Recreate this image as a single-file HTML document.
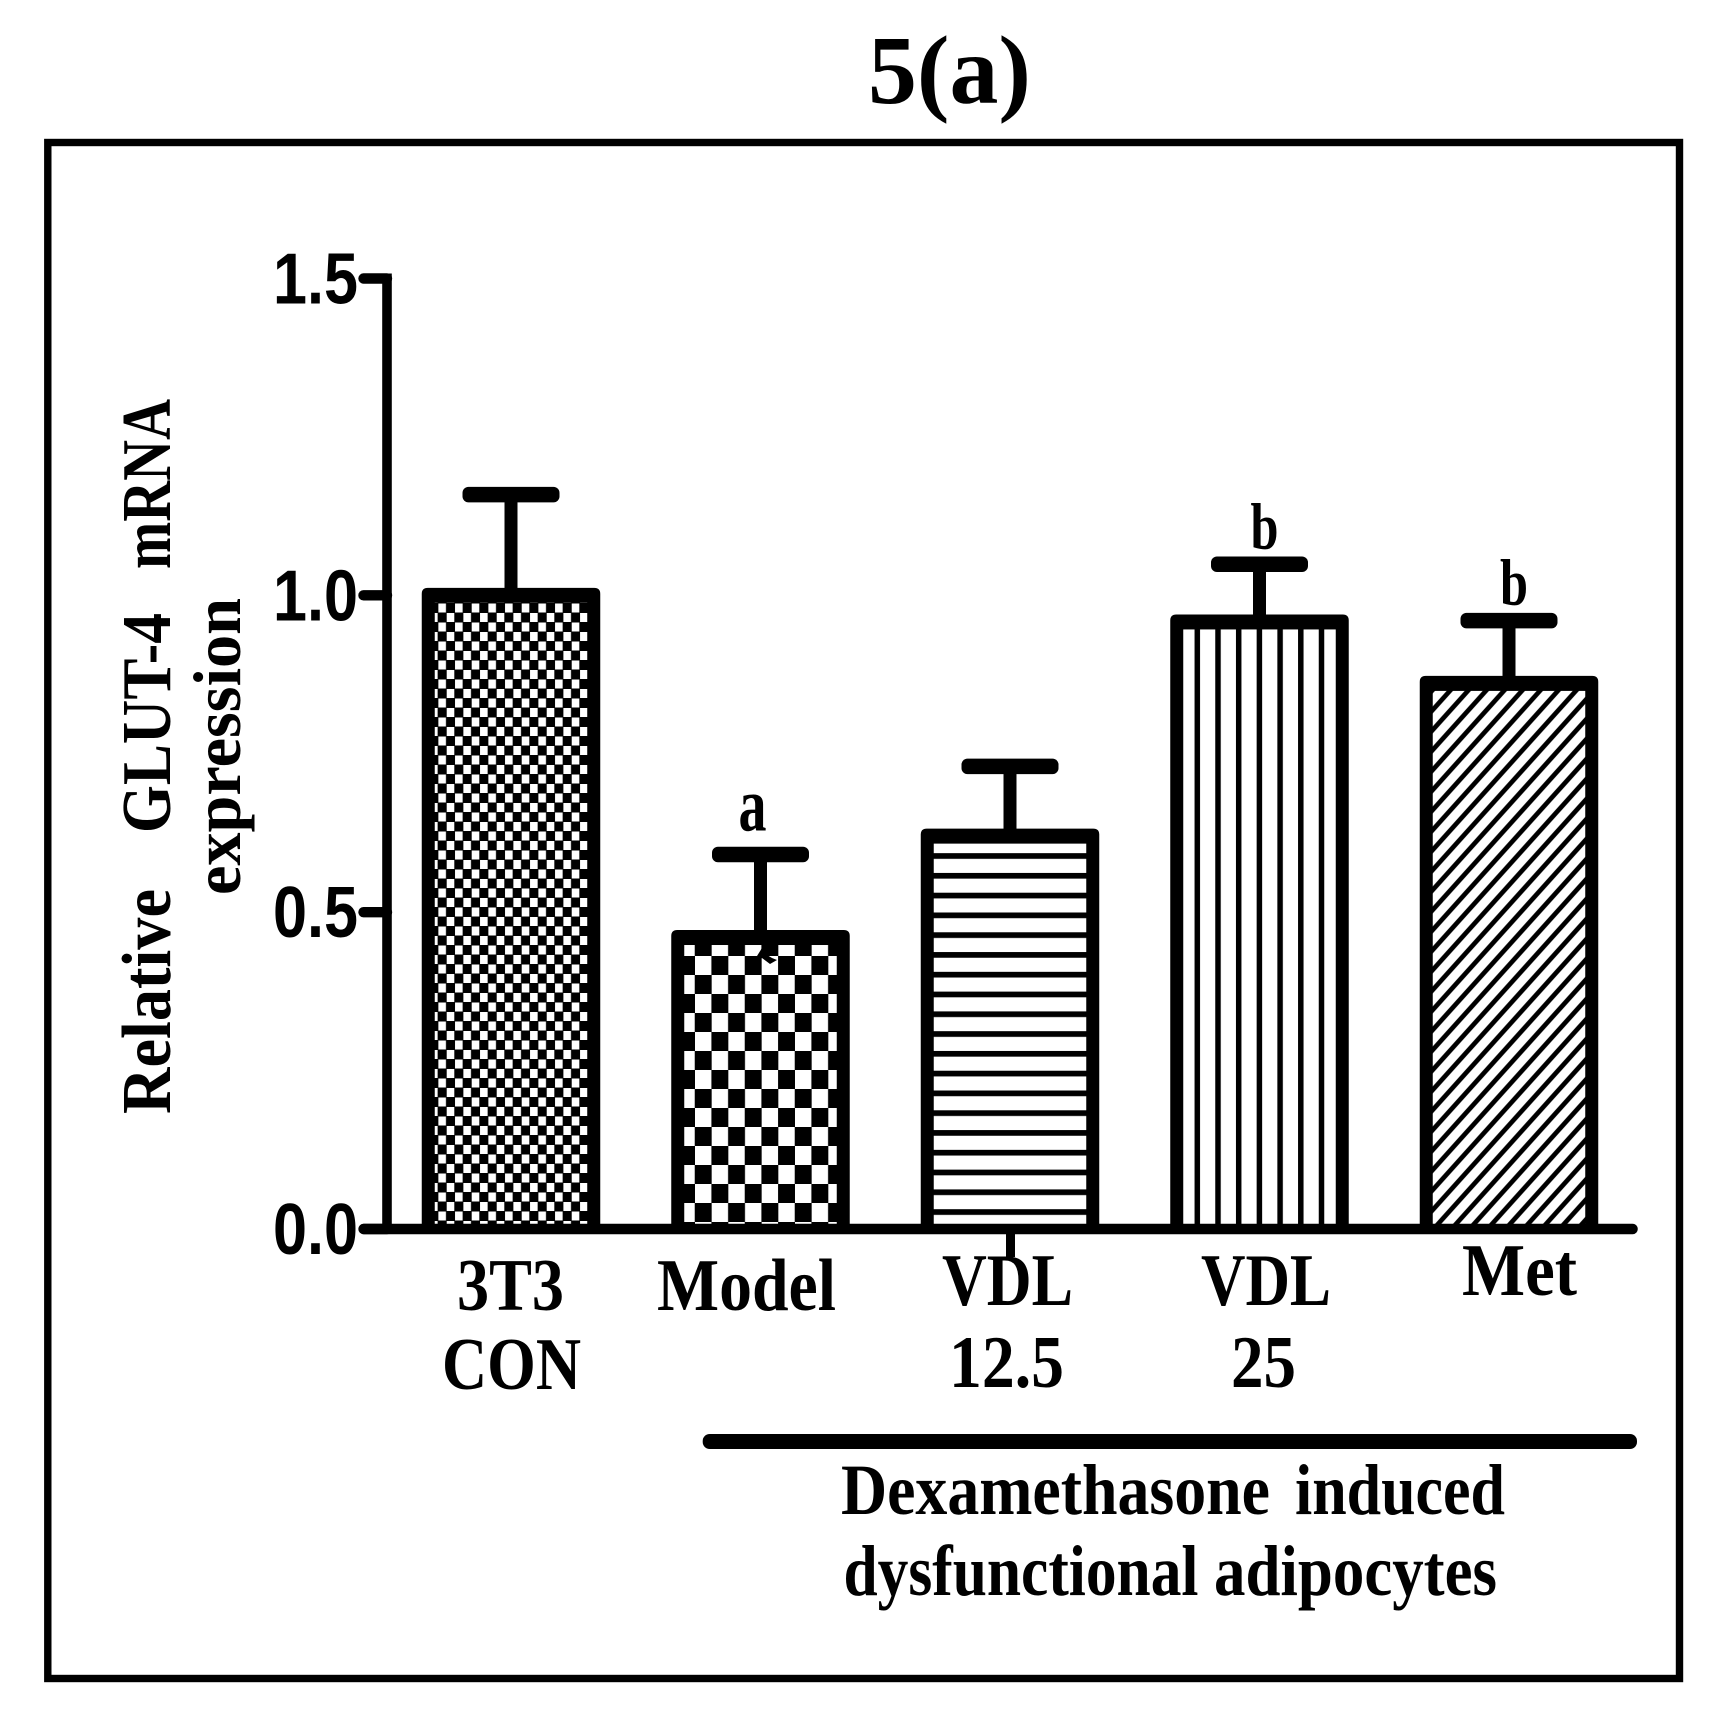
<!DOCTYPE html>
<html lang="en">
<head>
<meta charset="utf-8">
<title>5(a) Relative GLUT-4 mRNA expression</title>
<style>
  html, body { margin: 0; padding: 0; background: #fff; }
  svg { display: block; }
  .serif { font-family: "Liberation Serif", serif; font-weight: 700; fill: #000; }
  .sans { font-family: "Liberation Sans", sans-serif; font-weight: 700; fill: #000; }
</style>
</head>
<body>
<svg id="chart" xmlns="http://www.w3.org/2000/svg" width="1723" height="1729" viewBox="0 0 1723 1729">
  <defs>
    <pattern id="fill-fine-check" patternUnits="userSpaceOnUse" x="446.7" y="1107" width="16.67" height="19">
      <rect width="16.67" height="19" fill="#000"/>
      <rect x="0" y="0" width="7.6" height="9" fill="#fff"/>
      <rect x="8.33" y="9.5" width="7.6" height="9" fill="#fff"/>
    </pattern>
    <pattern id="fill-coarse-check" patternUnits="userSpaceOnUse" x="695" y="956" width="33.33" height="38">
      <rect width="33.33" height="38" fill="#000"/>
      <rect x="0" y="0" width="16.4" height="19" fill="#fff"/>
      <rect x="16.67" y="19" width="16.4" height="19" fill="#fff"/>
    </pattern>
    <pattern id="fill-horizontal" patternUnits="userSpaceOnUse" x="0" y="853.15" width="20" height="19.78">
      <rect width="20" height="19.78" fill="#fff"/>
      <rect x="0" y="0" width="20" height="5.7" fill="#000"/>
    </pattern>
    <pattern id="fill-vertical" patternUnits="userSpaceOnUse" x="1194.55" y="0" width="20.7" height="20">
      <rect width="20.7" height="20" fill="#fff"/>
      <rect x="0" y="0" width="5.5" height="20" fill="#000"/>
    </pattern>
    <pattern id="fill-diagonal" patternUnits="userSpaceOnUse" x="1432" y="690.7" width="18" height="20">
      <rect width="18" height="20" fill="#fff"/>
      <g stroke="#000" stroke-width="4.7">
        <line x1="22.5" y1="-5" x2="-4.5" y2="25"/>
        <line x1="4.5" y1="-5" x2="-22.5" y2="25"/>
        <line x1="40.5" y1="-5" x2="13.5" y2="25"/>
      </g>
    </pattern>
  </defs>

  <rect width="1723" height="1729" fill="#fff"/>
  <rect x="47.8" y="142.5" width="1631.7" height="1536" fill="none" stroke="#000" stroke-width="7.4"/>

  <text class="serif" x="868" y="103" font-size="98" textLength="163" lengthAdjust="spacingAndGlyphs">5(a)</text>

  <g id="plot"></g>

  <g>
    <text class="serif" font-size="70" transform="translate(170 1114) rotate(-90)" textLength="225" lengthAdjust="spacingAndGlyphs">Relative</text>
    <text class="serif" font-size="70" transform="translate(170 833) rotate(-90)" textLength="220" lengthAdjust="spacingAndGlyphs">GLUT-4</text>
    <text class="serif" font-size="70" transform="translate(170 569) rotate(-90)" textLength="170" lengthAdjust="spacingAndGlyphs">mRNA</text>
    <text class="serif" font-size="68" transform="translate(240 895) rotate(-90)" textLength="297" lengthAdjust="spacingAndGlyphs">expression</text>
  </g>

  <g>
    <text class="serif" font-size="74" x="457" y="1310" textLength="107" lengthAdjust="spacingAndGlyphs">3T3</text>
    <text class="serif" font-size="74" x="442" y="1389" textLength="139" lengthAdjust="spacingAndGlyphs">CON</text>
    <text class="serif" font-size="74" x="657" y="1310" textLength="179" lengthAdjust="spacingAndGlyphs">Model</text>
    <text class="serif" font-size="74" x="942" y="1305" textLength="131" lengthAdjust="spacingAndGlyphs">VDL</text>
    <text class="serif" font-size="74" x="949" y="1387" textLength="115" lengthAdjust="spacingAndGlyphs">12.5</text>
    <text class="serif" font-size="74" x="1201" y="1305" textLength="130" lengthAdjust="spacingAndGlyphs">VDL</text>
    <text class="serif" font-size="74" x="1231" y="1387" textLength="65" lengthAdjust="spacingAndGlyphs">25</text>
    <text class="serif" font-size="74" x="1462" y="1295" textLength="115" lengthAdjust="spacingAndGlyphs">Met</text>
  </g>

  <rect x="702.7" y="1434" width="934.3" height="15" rx="7" fill="#000"/>
  <g>
    <text class="serif" font-size="72" x="841" y="1514" textLength="429" lengthAdjust="spacingAndGlyphs">Dexamethasone</text>
    <text class="serif" font-size="72" x="1295" y="1514" textLength="210" lengthAdjust="spacingAndGlyphs">induced</text>
    <text class="serif" font-size="72" x="843.5" y="1595" textLength="355" lengthAdjust="spacingAndGlyphs">dysfunctional</text>
    <text class="serif" font-size="72" x="1214" y="1595" textLength="283" lengthAdjust="spacingAndGlyphs">adipocytes</text>
  </g>
</svg>

<script>
// Chart data
const categories = ['3T3 CON', 'Model', 'VDL 12.5', 'VDL 25', 'Met'];
const barValues = [1.0, 0.46, 0.62, 0.958, 0.861];
const errorValues = [0.159, 0.131, 0.11, 0.091, 0.099];
const sigLetters = ['', 'a', '', 'b', 'b'];
const barFills = ['fill-fine-check', 'fill-coarse-check', 'fill-horizontal', 'fill-vertical', 'fill-diagonal'];
const yTicks = [0, 0.5, 1.0, 1.5];
const yTickLabels = ['0.0', '0.5', '1.0', '1.5'];

// Axis functions
const yZero = 1229;
const yUnit = 633.67;
function yScale(v) { return yZero - v * yUnit; }
function xScale(i) { return 511 + 249.5 * i; }

const SVG_NS = 'http://www.w3.org/2000/svg';
const plot = document.getElementById('plot');
function make(tag, attrs) {
  const node = document.createElementNS(SVG_NS, tag);
  for (const k in attrs) node.setAttribute(k, attrs[k]);
  plot.appendChild(node);
  return node;
}

const barWidth = 178.5;
const sideStroke = 13;
const topStroke = 15;
const capWidth = 97;
const capHeight = 15.5;
const stemWidth = 13;

categories.forEach(function (name, i) {
  const slug = name.toLowerCase().replace(/[^a-z0-9]+/g, '-');
  const cx = xScale(i);
  const left = cx - barWidth / 2;
  const right = cx + barWidth / 2;
  const top = yScale(barValues[i]) - topStroke / 2;
  const r = 6;

  // Error bar
  const capY = yScale(barValues[i] + errorValues[i]);
  const stem = make('rect', { x: cx - stemWidth / 2, y: capY, width: stemWidth, height: top - capY + 2, fill: '#000' });
  
  
  const cap = make('rect', { x: cx - capWidth / 2, y: capY - capHeight / 2, width: capWidth, height: capHeight, rx: 6, fill: '#000' });
  
  

  // Bar outline
  const d = 'M' + left + ' ' + yZero + 'V' + (top + r) + 'Q' + left + ' ' + top + ' ' + (left + r) + ' ' + top +
            'H' + (right - r) + 'Q' + right + ' ' + top + ' ' + right + ' ' + (top + r) + 'V' + yZero + 'Z';
  const outline = make('path', { d: d, fill: '#000' });
  
  

  // Hatched fill
  const innerTop = top + topStroke;
  const fill = make('rect', {
    x: left + sideStroke, y: innerTop,
    width: barWidth - 2 * sideStroke, height: Math.max(0, yZero - innerTop),
    fill: 'url(#' + barFills[i] + ')'
  });
  
  

  // Significance letter
  if (sigLetters[i]) {
    const isA = sigLetters[i] === 'a';
    const letter = make('text', {
      class: 'serif',
      x: cx + (isA ? -8 : 5), y: capY - (isA ? 24 : 16),
      'font-size': isA ? 76 : 66,
      'text-anchor': 'middle',
      textLength: isA ? 28 : 28,
      lengthAdjust: 'spacingAndGlyphs'
    });
    letter.textContent = sigLetters[i];
    
    
  }
});

// Small stray mark on the Model bar, as in the source figure
const stray = make('polygon', { points: '752,964 762,948 768,945 770,950 767,955 772,958 777,960 770,964 762,958', fill: '#000' });



// Y axis
const yAxis = make('line', { x1: 387, x2: 387, y1: yScale(1.5) - 5, y2: yZero, stroke: '#000', 'stroke-width': 9.6 });



yTicks.forEach(function (t, i) {
  const y = yScale(t);
  const tick = make('line', { x1: 363.5, x2: 387, y1: y, y2: y, stroke: '#000', 'stroke-width': 10.4, 'stroke-linecap': 'round' });
  
  
  const label = make('text', { class: 'sans', x: 273, y: y + 25, 'font-size': 72, textLength: 85, lengthAdjust: 'spacingAndGlyphs' });
  label.textContent = yTickLabels[i];
  
  
});

// X axis baseline
const xAxis = make('line', { x1: 364, x2: 1632.5, y1: yZero, y2: yZero, stroke: '#000', 'stroke-width': 10.6, 'stroke-linecap': 'round' });



const xTick = make('rect', { x: 1006, y: yZero, width: 9, height: 28, fill: '#000' });


</script>
</body>
</html>
